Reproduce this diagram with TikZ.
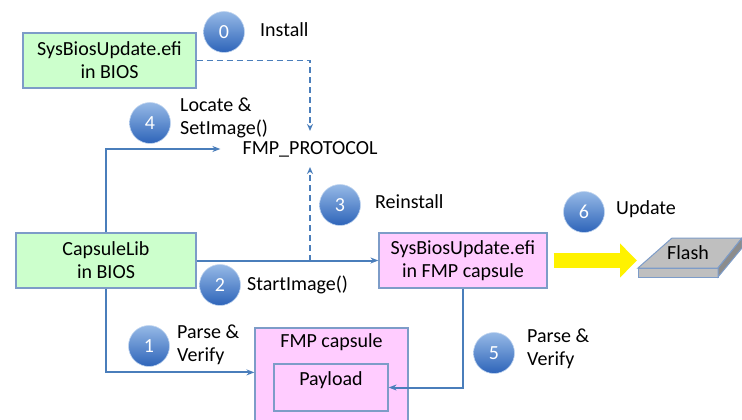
\documentclass[tikz,border=0pt]{standalone}
\usepackage{fontspec}
\setmainfont{Carlito}
\usetikzlibrary{arrows.meta,calc}
\definecolor{linec}{RGB}{74,126,187}
\definecolor{boxline}{RGB}{125,156,200}
\definecolor{greenfill}{RGB}{204,255,204}
\definecolor{pinkfill}{RGB}{255,204,255}
\definecolor{balltop}{RGB}{150,185,230}
\definecolor{ballbot}{RGB}{45,100,185}
\definecolor{flashgray}{RGB}{191,191,191}
\definecolor{flashdark}{RGB}{140,140,140}
\tikzset{
  txt/.style={font=\fontsize{20}{23}\selectfont, inner sep=0pt, align=left},
  box/.style={draw=boxline, line width=1.2pt, font=\fontsize{20}{23}\selectfont, align=center, inner sep=0pt},
  gbox/.style={box, fill=greenfill},
  pbox/.style={box, fill=pinkfill},
  numc/.style={circle, minimum size=41pt, inner sep=0pt, top color=balltop, bottom color=ballbot, draw=balltop!60!white, line width=0.6pt, text=white, font=\fontsize{20}{23}\selectfont},
  conn/.style={draw=linec, line width=2pt, -{Stealth[length=8pt,width=6pt]}},
  dconn/.style={draw=linec, line width=1.5pt, dash pattern=on 6pt off 4pt, -{Stealth[length=7pt,width=6pt]}},
  yarrow/.style={draw=yellow, line width=15pt, -{Triangle[width=33pt,length=17pt]}}
}
\begin{document}
\begin{tikzpicture}[x=1pt,y=-1pt]
\useasboundingbox (0,0) rectangle (742,420);
\fill[white] (0,0) rectangle (742,420);

% boxes
\node[gbox, minimum width=173pt, minimum height=55pt] (sbios) at (109.5,60.5) {SysBiosUpdate.efi\\in BIOS};
\node[gbox, minimum width=180pt, minimum height=55pt] (caplib) at (106,260.5) {CapsuleLib\\in BIOS};
\node[pbox, minimum width=168pt, minimum height=55pt] (fmpsb) at (463,260.5) {SysBiosUpdate.efi\\in FMP capsule};
\node[pbox, minimum width=153pt, minimum height=110pt] (fmpcap) at (331.5,383) {};
\node[txt] (fmpcapt) at ([yshift=-15pt]fmpcap.north) {FMP capsule};
\node[pbox, minimum width=114pt, minimum height=47pt] (payload) at (331,387.5) {};
\node[txt] (payloadt) at ([yshift=-17pt]payload.north) {Payload};

% protocol
\node[txt, inner ysep=10pt] (proto) at (310,149) {FMP\_PROTOCOL};

% flash slab
\filldraw[fill=flashgray, draw=boxline, line width=1pt] (638,268) -- (672,238) -- (742,238) -- (718,268) -- cycle;
\filldraw[fill=flashgray, draw=boxline, line width=1pt] (638,268) rectangle (718,277);
\filldraw[fill=flashdark, draw=boxline, line width=1pt] (718,268) -- (742,238) -- (742,248) -- (718,277) -- cycle;
\node[txt] (flash) at (688,253) {Flash};
\coordinate (flashin) at (637,260.5);

% connectors
\draw[dconn] (sbios.east) -| (proto.north);
\draw[conn, shorten >=22pt] (caplib.north) |- (proto.west);
\draw[conn] (caplib.east) -- (fmpsb.west);
\draw[dconn] (caplib.east -| proto.south) -- (proto.south);
\draw[conn] (caplib.south) |- ([yshift=-45pt]fmpcap.north west);
\draw[conn] (fmpsb.south) |- (payload.east);
\draw[yarrow] ([xshift=6pt]fmpsb.east) -- (flashin);

% numbered circles and labels
\node[numc] (c0) at (224,32) {0};
\node[txt, anchor=west] (l0) at (260,30) {Install};
\node[numc] (c4) at (150,123) {4};
\node[txt, anchor=west] (l4) at (180,118) {Locate \&\\SetImage()};
\node[numc] (c3) at (340,205) {3};
\node[txt, anchor=west] (l3) at (375,202) {Reinstall};
\node[numc] (c2) at (220,285) {2};
\node[txt, anchor=west] (l2) at (247,285) {StartImage()};
\node[numc] (c1) at (149,346) {1};
\node[txt, anchor=west] (l1) at (177,345) {Parse \&\\Verify};
\node[numc] (c5) at (494,353) {5};
\node[txt, anchor=west] (l5) at (527,349) {Parse \&\\Verify};
\node[numc] (c6) at (584,212) {6};
\node[txt, anchor=west] (l6) at (616,209) {Update};
\end{tikzpicture}
\end{document}
